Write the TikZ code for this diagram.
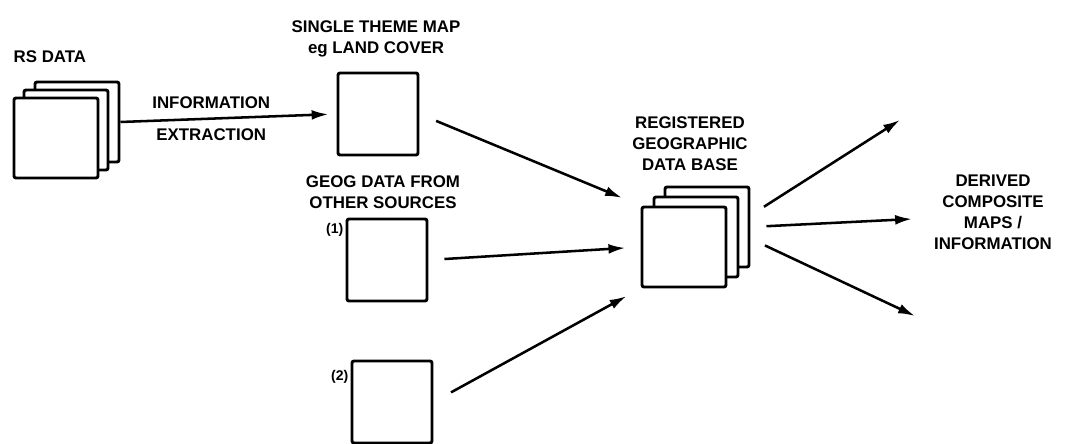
\documentclass[tikz,border=0pt]{standalone}
\usepackage{fontspec}
\setmainfont{Liberation Sans}
\usepackage{tikz}
\usetikzlibrary{arrows.meta,positioning}
\tikzset{
  sheet/.style={ draw, fill=white, line width=2.1pt, rounded corners=1.5pt, minimum width=2.1cm, minimum height=2cm, inner sep=0pt }
}
\tikzset{
  mapbox/.style={ draw, fill=white, line width=2.1pt, rounded corners=1.5pt, minimum width=2cm, minimum height=2.05cm, inner sep=0pt }
}
\tikzset{
  caption/.style={ font=\fontsize{12}{15}\selectfont\bfseries, align=center, inner sep=1pt }
}
\tikzset{
  numtext/.style={ font=\fontsize{10}{12}\selectfont\bfseries, inner sep=1pt }
}
\tikzset{
  flow/.style={ line width=1.8pt, -{Latex[length=12pt,width=7pt]} }
}

\begin{document}
\begin{tikzpicture}[x=0.025cm, y=-0.025cm]
      \useasboundingbox (0,0) rectangle (1072,444);
      % remote sensing data
      \node[sheet] (rs3) at (77,122) {};
      \node[sheet] (rs2) at (66,130) {};
      \node[sheet] (rs1) at (56,138) {};
      \node[caption, anchor=west] (rslab) at (12,57) {RS DATA};

      % single theme map
      \node[mapbox] (theme) at (378,114) {};
      \node[caption] (themelab) at (376,39) {SINGLE THEME MAP\\eg LAND COVER};
      \draw[flow, shorten >=0.2cm] (rs3.east) -- (theme.west)
        node[caption, pos=0.42, above=5pt] (infolab) {INFORMATION}
        node[caption, pos=0.42, below=5pt] (extrlab) {EXTRACTION};

      % other sources
      \node[caption] (geoglab) at (383,192) {GEOG DATA FROM\\OTHER SOURCES};
      \node[mapbox] (src1) at (387,260) {};
      \node[mapbox] (src2) at (392,402) {};
      \node[numtext, anchor=east] (num1) at (345,230) {(1)};
      \node[numtext, anchor=east] (num2) at (350,377) {(2)};

      % data base
      \node[sheet] (db3) at (707,227) {};
      \node[sheet] (db2) at (696,237) {};
      \node[sheet] (db1) at (684,247) {};
      \node[caption] (dblab) at (690,144) {REGISTERED\\GEOGRAPHIC\\DATA BASE};

      \draw[flow, shorten <=0.45cm, shorten >=0.5cm] (theme.east) -- (db1.north west);
      \draw[flow, shorten <=0.4cm, shorten >=0.38cm] (src1.east) -- (db1.west);
      \draw[flow, shorten <=0.5cm, shorten >=0.4cm] (src2.east) -- (db1.south west);

      % derived maps
      \coordinate (out1) at (900,120);
      \coordinate (out2) at (912,219);
      \coordinate (out3) at (915,316);
      \node[caption] (derived) at (993,212) {DERIVED\\COMPOSITE\\MAPS /\\INFORMATION};
      \draw[flow, shorten <=0.4cm] (db3.15) -- (out1);
      \draw[flow, shorten <=0.4cm] (db3.east) -- (out2);
      \draw[flow, shorten <=0.4cm] (db3.-15) -- (out3);
    \end{tikzpicture}
\end{document}
